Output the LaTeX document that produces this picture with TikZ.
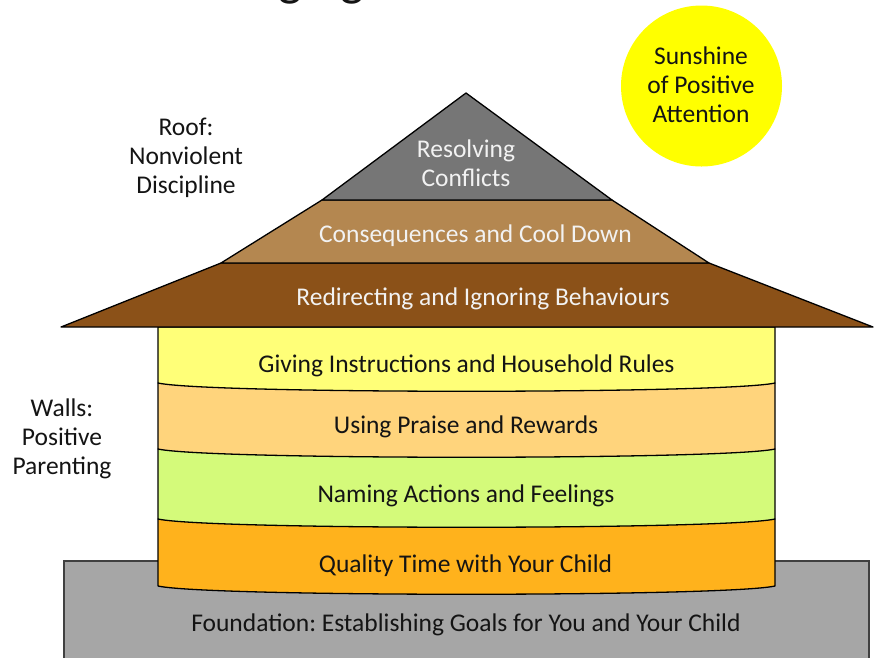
\documentclass[tikz,border=0pt]{standalone}
\usepackage{fontspec}
\setmainfont{Carlito}
\frenchspacing
\definecolor{roofgrey}{RGB}{118,118,118}
\definecolor{rooftan}{RGB}{180,135,80}
\definecolor{roofbrown}{RGB}{139,81,24}
\definecolor{wyellow}{RGB}{255,255,120}
\definecolor{wpeach}{RGB}{255,212,124}
\definecolor{wgreen}{RGB}{212,250,122}
\definecolor{worange}{RGB}{255,178,28}
\definecolor{fgrey}{RGB}{166,166,166}
\definecolor{fborder}{RGB}{64,64,64}
\definecolor{sunyellow}{RGB}{255,255,0}
\definecolor{txtdark}{RGB}{20,20,20}
\definecolor{txtlight}{RGB}{242,242,242}
\begin{document}
\begin{tikzpicture}[x=1pt,y=-1pt,
  roofpart/.style={draw=black, line width=1.3pt, line join=round},
  band/.style={draw=black, line width=1.3pt, line join=round},
  lbl/.style={font=\fontsize{25.5}{29}\selectfont, align=center, inner sep=0pt, anchor=base},
  darklbl/.style={lbl, text=txtdark},
  lightlbl/.style={lbl, text=txtlight}]
\useasboundingbox (0,0) rectangle (875,657);
\clip (0,0) rectangle (875,657);
% title (cut off at the top)
\node[inner sep=0pt, anchor=base west, text=txtdark, font=\fontsize{50.6}{60}\selectfont] (title) at (278,-4.5) {ging};
% sun
\node[circle, fill=sunyellow, minimum size=161pt, inner sep=0pt] (sun) at (701.5,86) {};
\node[darklbl] (suntext) at (701,122.7) {Sunshine\\of Positive\\Attention};
% foundation
\path[draw=fborder, fill=fgrey, line width=1.8pt] (64,561) rectangle (869,700);
\node[darklbl] (found) at (466,631) {Foundation: Establishing Goals for You and Your Child};
% walls, bottom band first
\draw[band, fill=worange] (158,519) -- (775,519) -- (775,586) .. controls (725,597) and (208,597) .. (158,586) -- cycle;
\draw[band, fill=wgreen] (158,449) -- (775,449) -- (775,519) .. controls (725,530) and (208,530) .. (158,519) -- cycle;
\draw[band, fill=wpeach] (158,383) -- (775,383) -- (775,449) .. controls (725,460) and (208,460) .. (158,449) -- cycle;
\draw[band, fill=wyellow] (158,327) -- (775,327) -- (775,383) .. controls (725,394) and (208,394) .. (158,383) -- cycle;
\node[darklbl] (quality) at (465.5,572.3) {Quality Time with Your Child};
\node[darklbl] (naming) at (466,502.7) {Naming Actions and Feelings};
\node[darklbl] (praise) at (466,433.3) {Using Praise and Rewards};
\node[darklbl] (instr) at (466.5,372.3) {Giving Instructions and Household Rules};
% roof
\draw[roofpart, fill=roofbrown] (61,327) -- (221,263) -- (709,263) -- (873,327) -- cycle;
\draw[roofpart, fill=rooftan] (221,263) -- (322,200) -- (612,200) -- (709,263) -- cycle;
\draw[roofpart, fill=roofgrey] (322,200) -- (466,93) -- (612,200) -- cycle;
\node[lightlbl] (redir) at (483,305.7) {Redirecting and Ignoring Behaviours};
\node[lightlbl] (conseq) at (475.5,242.7) {Consequences and Cool Down};
\node[lightlbl] (resolve) at (466,186.7) {Resolving\\Conflicts};
% side labels
\node[darklbl] (rooflbl) at (186,193.3) {Roof:\\Nonviolent\\Discipline};
\node[darklbl] (walllbl) at (62,474) {Walls:\\Positive\\Parenting};
\end{tikzpicture}
\end{document}
